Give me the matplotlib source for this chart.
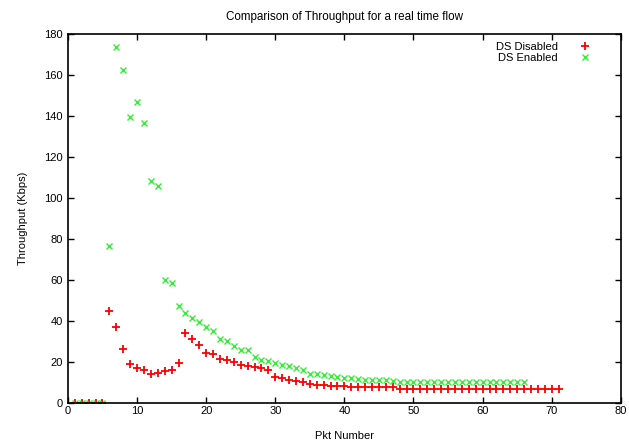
import numpy as np
import matplotlib
matplotlib.use("Agg")
import matplotlib.pyplot as plt

# packet numbers
pkt_disabled = np.arange(1, 72)
pkt_enabled = np.arange(1, 67)

# throughput (Kbps), DS disabled
thr_disabled = [0, 0, 0, 0, 0, 44.8, 37.1, 26.5, 19.2, 17.3,
                16.0, 14.3, 14.6, 15.6, 16.0, 19.7, 34.2, 31.4, 28.2, 24.4,
                23.8, 21.7, 20.8, 20.0, 18.4, 17.9, 17.6, 17.3, 16.0, 12.7,
                12.2, 11.1, 10.6, 10.3, 9.5, 9.0, 8.6, 8.5, 8.4, 8.3,
                7.9, 7.8, 7.8, 7.7, 7.7, 7.6, 7.6, 7.0, 7.0, 7.0,
                7.0, 7.0, 7.0, 7.0, 7.0, 7.0, 7.0, 7.0, 7.0, 7.0,
                7.0, 7.0, 7.0, 7.0, 7.0, 7.0, 7.0, 7.0, 7.0, 7.0,
                7.0]

# throughput (Kbps), DS enabled
thr_enabled = [0, 0, 0, 0, 0, 76.5, 173.8, 162.4, 139.3, 147.0,
               136.7, 108.4, 105.8, 60.2, 58.3, 47.2, 44.0, 41.7, 39.4, 37.1,
               35.2, 31.0, 30.3, 27.7, 26.0, 26.0, 22.5, 21.2, 20.5, 19.5,
               18.4, 18.0, 17.1, 16.0, 14.4, 14.4, 13.5, 13.0, 12.5, 12.2,
               12.0, 11.5, 11.3, 11.2, 11.0, 11.0, 10.8, 10.5, 10.5, 10.5,
               10.5, 10.5, 10.5, 10.5, 10.5, 10.5, 10.5, 10.5, 10.5, 10.5,
               10.5, 10.5, 10.5, 10.5, 10.5, 10.5]

x_ticks = np.arange(0, 81, 10)
y_ticks = np.arange(0, 181, 20)

plt.rcParams['font.family'] = ['Liberation Sans', 'DejaVu Sans']
fig = plt.figure(figsize=(6.29, 4.40), dpi=100)
ax = fig.add_axes([0.108, 0.084, 0.879, 0.839])

ax.plot(pkt_disabled, thr_disabled, linestyle='none', marker='+',
        color='#ff0000', markersize=6, markeredgewidth=1.3, label='DS Disabled')
ax.plot(pkt_enabled, thr_enabled, linestyle='none', marker='x',
        color='#33ee33', markersize=4, markeredgewidth=1.0, label='DS Enabled')

ax.set_xlim(0, 80)
ax.set_ylim(0, 180)
ax.set_xticks(x_ticks)
ax.set_yticks(y_ticks)
ax.tick_params(direction='in', top=True, right=True, length=4, width=1,
               labelsize=8)
ax.tick_params(axis='x', pad=2)
for s in ax.spines.values():
    s.set_linewidth(1.2)

ax.set_title('Comparison of Throughput for a real time flow', fontsize=8.4, pad=10)
ax.set_xlabel('Pkt Number', fontsize=8, labelpad=11)
ax.set_ylabel('Throughput (Kbps)', fontsize=8, labelpad=12)

leg = ax.legend(loc='upper right', bbox_to_anchor=(0.96, 1.0),
                markerfirst=False, frameon=False,
                fontsize=8, handlelength=1.0, handletextpad=2.0,
                borderaxespad=0.3, labelspacing=0.1)
for t in leg.get_texts():
    t.set_ha('right')

fig.savefig('out.png', dpi=100)
